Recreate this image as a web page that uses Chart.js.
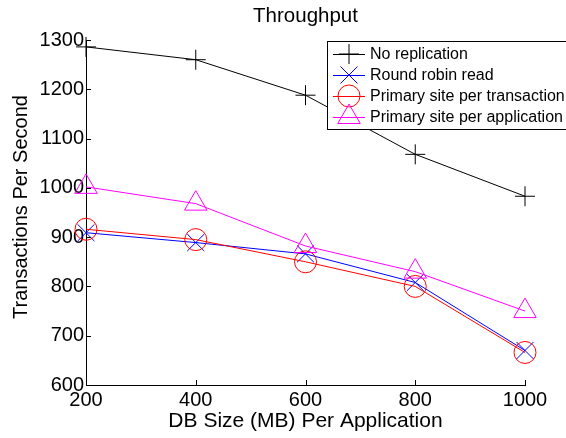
<!DOCTYPE html>
<html>
<head>
<meta charset="utf-8">
<title>Throughput</title>
<script src="https://cdn.jsdelivr.net/npm/chart.js@4.4.1/dist/chart.umd.min.js"></script>
<style>
  html, body { margin: 0; padding: 0; background: #fff; }
  canvas { display: block; }
</style>
</head>
<body>
<canvas id="chart" width="566" height="438"></canvas>
<script>
// DB size per application (MB)
const dbSizes = [200, 400, 600, 800, 1000];

// transactions per second for each replication scheme
const noReplication = [1286, 1260, 1188, 1068, 983];
const roundRobinRead = [909, 889, 866, 808, 670];
const primaryPerTransaction = [916, 895, 850, 800, 666];
const primaryPerApplication = [1002, 968, 882, 830, 750];

const seriesNames = [
  'No replication',
  'Round robin read',
  'Primary site per transaction',
  'Primary site per application'
];
const seriesColors = ['#000000', '#0000ff', '#ff0000', '#ff00ff'];
const seriesMarkers = ['cross', 'crossRot', 'circle', 'triangle'];
const markerSizes = [10, 12, 11, 13];

const yTicks = [600, 700, 800, 900, 1000, 1100, 1200, 1300];

const FONT = '"Liberation Sans", Arial, Helvetica, sans-serif';

const toPoints = values => values.map((v, i) => ({ x: dbSizes[i], y: v }));

const seriesValues = [noReplication, roundRobinRead, primaryPerTransaction, primaryPerApplication];

const datasets = seriesValues.map((values, i) => ({
  label: seriesNames[i],
  data: toPoints(values),
  borderColor: seriesColors[i],
  backgroundColor: 'rgba(0,0,0,0)',
  borderWidth: 1,
  pointStyle: seriesMarkers[i],
  pointRadius: markerSizes[i],
  pointBorderWidth: 1,
  pointBorderColor: seriesColors[i],
  pointBackgroundColor: 'rgba(0,0,0,0)',
  tension: 0,
  clip: false,
  order: seriesValues.length - 1 - i   // later series drawn on top
}));

// inward tick marks, title, axis labels and the boxed legend
const decorations = {
  id: 'decorations',
  afterDraw(chart) {
    const ctx = chart.ctx;
    const area = chart.chartArea;
    const xs = chart.scales.x;
    const ys = chart.scales.y;
    ctx.save();
    ctx.strokeStyle = '#000';
    ctx.lineWidth = 1;

    // ticks pointing into the plot
    ctx.beginPath();
    dbSizes.forEach(v => {
      const px = Math.round(xs.getPixelForValue(v)) + 0.5;
      ctx.moveTo(px, area.bottom);
      ctx.lineTo(px, area.bottom - 5);
    });
    yTicks.forEach(v => {
      const py = Math.round(ys.getPixelForValue(v)) + 0.5;
      ctx.moveTo(area.left, py);
      ctx.lineTo(area.left + 5, py);
    });
    ctx.stroke();

    ctx.fillStyle = '#000';
    ctx.textAlign = 'center';
    ctx.textBaseline = 'middle';

    ctx.font = '20.5px ' + FONT;
    ctx.fillText('Throughput', (area.left + area.right) / 2, 16);

    ctx.font = '21px ' + FONT;
    ctx.fillText('DB Size (MB) Per Application', (area.left + area.right) / 2, 421);

    ctx.save();
    ctx.translate(21, 207);
    ctx.rotate(-Math.PI / 2);
    ctx.font = '20px ' + FONT;
    ctx.fillText('Transactions Per Second', 0, 0);
    ctx.restore();

    // legend
    const boxLeft = 327, boxTop = 41, boxBottom = 129;
    ctx.fillStyle = '#fff';
    ctx.fillRect(boxLeft, boxTop, 566 - boxLeft + 5, boxBottom - boxTop);
    ctx.strokeStyle = '#000';
    ctx.strokeRect(boxLeft + 0.5, boxTop + 0.5, 566 - boxLeft + 5, boxBottom - boxTop);

    const rowY = [54, 75, 96, 117];
    ctx.font = '16px ' + FONT;
    ctx.textAlign = 'left';
    seriesNames.forEach((name, i) => {
      const y = rowY[i];
      ctx.strokeStyle = seriesColors[i];
      ctx.beginPath();
      ctx.moveTo(333, y + 0.5);
      ctx.lineTo(365, y + 0.5);
      ctx.stroke();
      ctx.fillStyle = 'rgba(0,0,0,0)';
      Chart.helpers.drawPoint(ctx, {
        pointStyle: seriesMarkers[i],
        radius: markerSizes[i],
        borderWidth: 1
      }, 349, y);
      ctx.fillStyle = '#000';
      ctx.fillText(name, 370, y + 1);
    });
    ctx.restore();
  }
};

new Chart(document.getElementById('chart'), {
  type: 'line',
  data: { datasets },
  options: {
    responsive: false,
    animation: false,
    devicePixelRatio: 1,
    layout: { padding: { top: 40, right: 41, left: 0, bottom: 0 } },
    plugins: {
      legend: { display: false },
      title: { display: false },
      tooltip: { enabled: false }
    },
    scales: {
      x: {
        type: 'linear',
        min: 200,
        max: 1000,
        afterFit: s => { s.height = 53; },
        afterBuildTicks: s => { s.ticks = dbSizes.map(v => ({ value: v })); },
        grid: { display: false, drawTicks: false },
        border: { display: true, color: '#000', width: 1 },
        ticks: {
          color: '#000',
          font: { family: FONT, size: 20 },
          padding: 3,
          maxRotation: 0,
          callback: v => String(v)
        }
      },
      y: {
        type: 'linear',
        min: 600,
        max: 1300,
        afterFit: s => { s.width = 86; },
        afterBuildTicks: s => { s.ticks = yTicks.map(v => ({ value: v })); },
        grid: { display: false, drawTicks: false },
        border: { display: true, color: '#000', width: 1 },
        ticks: {
          color: '#000',
          font: { family: FONT, size: 20 },
          padding: 2,
          callback: v => String(v)
        }
      }
    }
  },
  plugins: [decorations]
});
</script>
</body>
</html>
